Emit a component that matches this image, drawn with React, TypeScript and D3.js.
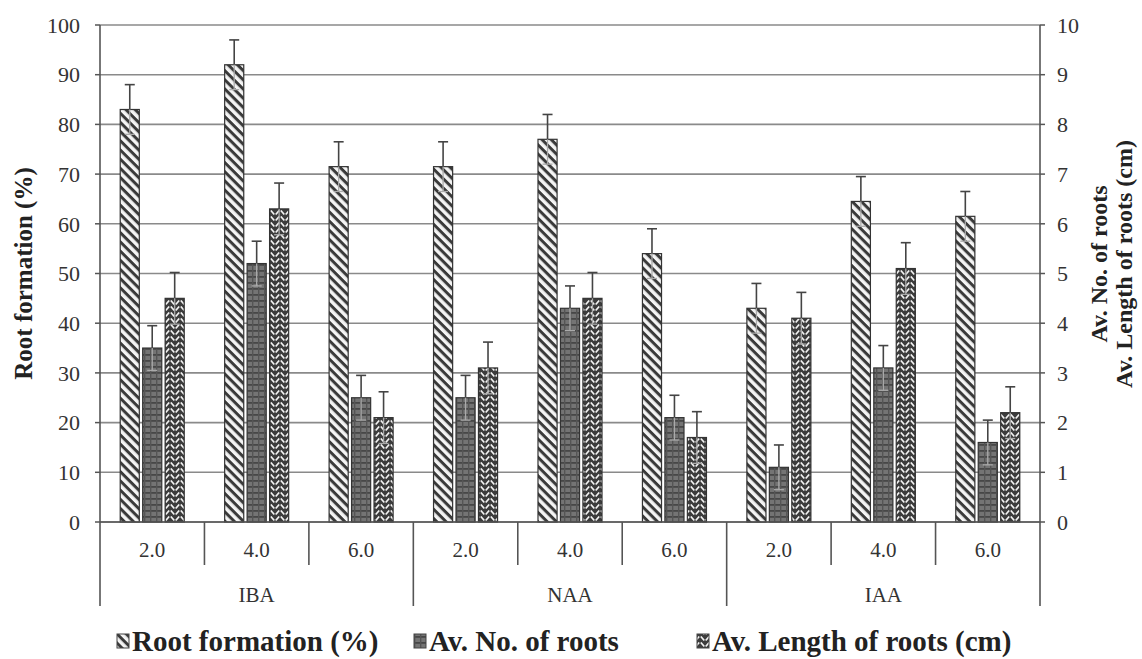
import React from "react";
import * as d3 from "d3";

const groups = ["IBA", "NAA", "IAA"];
const levels = ["2.0", "4.0", "6.0"];
const rootFormation = [83, 92, 71.5, 71.5, 77, 54, 43, 64.5, 61.5];
const rootFormationErr = [5, 5, 5, 5, 5, 5, 5, 5, 5];
const avNoRoots = [3.5, 5.2, 2.5, 2.5, 4.3, 2.1, 1.1, 3.1, 1.6];
const avNoRootsErr = [0.45, 0.45, 0.45, 0.45, 0.45, 0.45, 0.45, 0.45, 0.45];
const avLength = [4.5, 6.3, 2.1, 3.1, 4.5, 1.7, 4.1, 5.1, 2.2];
const avLengthErr = [0.52, 0.52, 0.52, 0.52, 0.52, 0.52, 0.52, 0.52, 0.52];
const leftTicks = [0, 10, 20, 30, 40, 50, 60, 70, 80, 90, 100];
const rightTicks = [0, 1, 2, 3, 4, 5, 6, 7, 8, 9, 10];
const seriesNames = ["Root formation (%)", "Av. No. of roots", "Av. Length of roots (cm)"];

const W = 1142, H = 659;
const L = 100, R = 1040, T = 25, B = 522;
const FONT = "\"Times New Roman\", \"Liberation Serif\", serif";

export default function App() {
  const cats = d3.range(9);
  const x = d3.scaleBand<number>().domain(cats).range([L, R]).padding(0);
  const inner = d3.scaleBand<number>().domain([0, 1, 2]).range([0, x.bandwidth()]).paddingInner(0.15).paddingOuter(0.9);
  const yL = d3.scaleLinear().domain([0, 100]).range([B, T]);
  const yR = d3.scaleLinear().domain([0, 10]).range([B, T]);

  const series = [
    { vals: rootFormation, err: rootFormationErr, y: yL, fill: "url(#pStripe)" },
    { vals: avNoRoots, err: avNoRootsErr, y: yR, fill: "url(#pGrid)" },
    { vals: avLength, err: avLengthErr, y: yR, fill: "url(#pZig)" },
  ];

  const bw = inner.bandwidth();
  const cap = 5;

  const legendItems = [
    { x: 117, fill: "url(#pStripe)", name: seriesNames[0] },
    { x: 414, fill: "url(#pGrid)", name: seriesNames[1] },
    { x: 697, fill: "url(#pZig)", name: seriesNames[2] },
  ];

  return (
    <svg width={W} height={H} style={{ position: "absolute", left: 0, top: 0, background: "#fff", fontFamily: FONT }}>
      <defs>
        <pattern id="pStripe" patternUnits="userSpaceOnUse" width="6.5" height="6.5" patternTransform="rotate(45)">
          <rect width="6.5" height="6.5" fill="#f4f4f4" />
          <rect x="0" y="0" width="6.5" height="3" fill="#3a3a3a" />
        </pattern>
        <pattern id="pGrid" patternUnits="userSpaceOnUse" width="6" height="6">
          <rect width="6" height="6" fill="#747474" />
          <rect x="0" y="0" width="6" height="1.8" fill="#474747" />
          <rect x="0" y="0" width="1.4" height="6" fill="#555" />
        </pattern>
        <pattern id="pZig" patternUnits="userSpaceOnUse" width="10" height="6">
          <rect width="10" height="6" fill="#3c3c3c" />
          <path d="M0.8,0.5 L4.3,4.5 M9.2,0.5 L5.7,4.5" fill="none" stroke="#f2f2f2" strokeWidth="1.7" />
        </pattern>
      </defs>

      {/* gridlines */}
      {leftTicks.map((t) => (
        <line key={"g" + t} x1={L} x2={R} y1={yL(t)} y2={yL(t)} stroke="#8a8a8a" strokeWidth={1.6} />
      ))}

      {/* bars */}
      {series.map((s, si) =>
        cats.map((c) => {
          const bx = (x(c) as number) + (inner(si) as number);
          const top = s.y(s.vals[c]);
          return (
            <rect key={`b${si}-${c}`} x={bx} y={top} width={bw} height={B - top} fill={s.fill} stroke="#333" strokeWidth={1.2} />
          );
        })
      )}

      {/* error bars */}
      {series.map((s, si) =>
        cats.map((c) => {
          const cx = (x(c) as number) + (inner(si) as number) + bw / 2;
          const hi = s.y(s.vals[c] + s.err[c]);
          const mid = s.y(s.vals[c]);
          const lo = s.y(s.vals[c] - s.err[c]);
          return (
            <g key={`e${si}-${c}`} stroke="#444" strokeWidth={1.6}>
              <line x1={cx} x2={cx} y1={hi} y2={mid} />
              <line x1={cx} x2={cx} y1={mid} y2={lo} stroke="#aaa" strokeWidth={1.3} />
              <line x1={cx - cap} x2={cx + cap} y1={hi} y2={hi} />
              <line x1={cx - cap} x2={cx + cap} y1={lo} y2={lo} stroke="#aaa" strokeWidth={1.3} />
            </g>
          );
        })
      )}

      {/* axes lines */}
      <line x1={L} x2={L} y1={T} y2={606} stroke="#555" strokeWidth={1.6} />
      <line x1={R} x2={R} y1={T} y2={606} stroke="#555" strokeWidth={1.6} />
      <line x1={L} x2={R} y1={B} y2={B} stroke="#555" strokeWidth={1.6} />
      {leftTicks.map((t) => (
        <line key={"lt" + t} x1={L - 5} x2={L} y1={yL(t)} y2={yL(t)} stroke="#555" strokeWidth={1.5} />
      ))}
      {rightTicks.map((t) => (
        <line key={"rt" + t} x1={R} x2={R + 5} y1={yR(t)} y2={yR(t)} stroke="#555" strokeWidth={1.5} />
      ))}

      {/* category dividers */}
      {cats.slice(1).map((c) => (
        <line key={"d" + c} x1={x(c) as number} x2={x(c) as number} y1={B} y2={c % 3 === 0 ? 606 : 565} stroke="#555" strokeWidth={1.6} />
      ))}

      {/* tick labels */}
      {leftTicks.map((t) => (
        <text key={"ll" + t} x={80} y={yL(t)} dy="0.35em" textAnchor="end" fontSize={22} fill="#333">{t}</text>
      ))}
      {rightTicks.map((t) => (
        <text key={"rl" + t} x={1057} y={yR(t)} dy="0.35em" textAnchor="start" fontSize={22} fill="#333">{t}</text>
      ))}
      {cats.map((c) => (
        <text key={"cl" + c} x={(x(c) as number) + x.bandwidth() / 2} y={557} textAnchor="middle" fontSize={21} fill="#333">{levels[c % 3]}</text>
      ))}
      {groups.map((g, gi) => (
        <text key={"gl" + g} x={(x(gi * 3) as number) + x.bandwidth() * 1.5} y={602} textAnchor="middle" fontSize={21} fill="#333">{g}</text>
      ))}

      {/* axis titles */}
      <text transform={`translate(32,${(T + B) / 2}) rotate(-90)`} textAnchor="middle" fontSize={25} fontWeight="bold" fill="#222">Root formation (%)</text>
      <text transform={`translate(1107,264) rotate(-90)`} textAnchor="middle" fontSize={24} fontWeight="bold" fill="#222">Av. No. of roots</text>
      <text transform={`translate(1132,264) rotate(-90)`} textAnchor="middle" fontSize={24} fontWeight="bold" fill="#222">Av. Length of roots (cm)</text>

      {/* legend */}
      {legendItems.map((li) => (
        <g key={li.name}>
          <rect x={li.x} y={634} width={12} height={14} fill={li.fill} stroke="#444" strokeWidth={1} />
          <text x={li.x + 15} y={651} fontSize={29} fontWeight="bold" fill="#222">{li.name}</text>
        </g>
      ))}
    </svg>
  );
}
